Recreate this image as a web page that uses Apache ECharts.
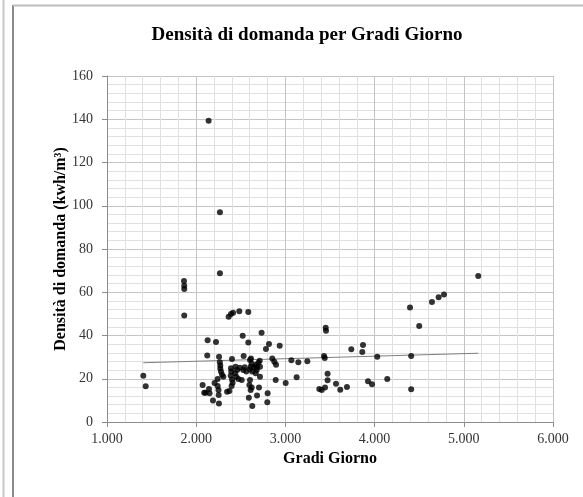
<!DOCTYPE html>
<html>
<head>
<meta charset="utf-8">
<script src="https://cdn.jsdelivr.net/npm/echarts@6/dist/echarts.min.js"></script>
<style>
  html, body { margin: 0; padding: 0; background: #fff; }
  #chart { width: 583px; height: 497px; }
</style>
</head>
<body>
<div id="chart"></div>
<script>
// Gradi Giorno (x) / Densità di domanda (y)
const gradiGiorno = [
  1407, 1434,
  1863, 1866, 1866, 1866,
  2139, 2266, 2266,
  2364, 2390, 2413, 2483, 2584,
  2521, 2733, 2584, 2128, 2222, 2816, 2782, 2936,
  2124, 2256, 2401, 2532, 2614, 2853, 2876, 2895, 3067, 3145, 3246,
  2265, 2270, 2270, 2278, 2290, 2304, 2240, 2206, 2072, 2090, 2105, 2143, 2150, 2188, 2255, 2250, 2252, 2241,
  2346, 2372, 2397, 2408, 2402, 2387, 2393, 2390, 2441, 2459, 2489, 2435, 2450, 2472, 2510, 2528, 2544, 2562,
  2603, 2622, 2610, 2603, 2629, 2651, 2667, 2682, 2678, 2697, 2712, 2715, 2667, 2715,
  2603, 2596, 2622, 2610, 2704, 2590, 2682, 2629, 2801, 2797, 2891, 3003, 3126,
  3380, 3407, 3444, 3473, 3473, 3433, 3441, 3452, 3455, 3567, 3615, 3690, 3739, 3870, 3862,
  3926, 3971, 4030, 4142, 4397, 4410, 4410, 4500, 4643, 4718, 4778, 5162
];
const densita = [
  21.4, 16.5,
  65.2, 63.0, 61.5, 49.2,
  139.3, 97.0, 68.8,
  48.7, 49.9, 50.5, 51.2, 50.9,
  39.9, 41.3, 36.8, 37.8, 37.0, 36.1, 33.8, 35.3,
  30.7, 30.2, 29.1, 30.5, 29.4, 29.4, 27.9, 26.5, 28.5, 27.6, 28.1,
  27.6, 26.1, 24.7, 23.3, 21.8, 20.9, 19.9, 18.0, 17.1, 13.5, 13.5, 15.3, 13.3, 9.9, 8.6, 14.8, 12.5, 16.6,
  14.0, 14.3, 16.6, 18.2, 19.7, 21.4, 23.3, 24.8, 25.6, 24.0, 25.1, 22.5, 20.9, 19.9, 19.4, 24.0, 25.3, 23.3,
  28.7, 27.1, 25.6, 24.4, 23.3, 25.3, 26.4, 25.3, 24.0, 27.4, 28.3, 25.6, 22.5, 20.9,
  19.4, 17.1, 16.0, 14.8, 15.9, 11.2, 12.2, 7.4, 13.3, 9.1, 19.4, 18.0, 20.7,
  15.3, 14.8, 16.0, 22.3, 19.3, 30.5, 29.6, 43.6, 42.2, 17.7, 14.9, 16.2, 33.6, 35.6, 32.4,
  18.8, 17.4, 30.2, 19.9, 53.0, 30.5, 15.1, 44.4, 55.5, 57.7, 59.0, 67.5
];

// linea di tendenza: estremi
const tendenzaX = [1407, 5162];
const tendenzaY = [27.4, 31.8];

const punti = gradiGiorno.map((x, i) => [x, densita[i]]);
const tendenza = tendenzaX.map((x, i) => [x, tendenzaY[i]]);

const serif = 'Liberation Serif';
const chart = echarts.init(document.getElementById('chart'));

chart.setOption({
  animation: false,
  backgroundColor: '#fff',
  textStyle: { fontFamily: serif },
  title: {
    text: 'Densità di domanda per Gradi Giorno',
    left: 302, top: 21, textAlign: 'center',
    textStyle: { fontFamily: serif, fontSize: 19, fontWeight: 'bold', color: '#000' }
  },
  grid: { left: 107, right: 30, top: 76, bottom: 75 },
  xAxis: {
    type: 'value', min: 1000, max: 6000, interval: 1000,
    name: 'Gradi Giorno', nameLocation: 'middle', nameGap: 29, nameMoveOverlap: false,
    nameTextStyle: { fontFamily: serif, fontSize: 16, fontWeight: 'bold', color: '#000' },
    axisLine: { show: true, lineStyle: { color: '#8c8c8c' } },
    axisTick: { show: true, length: 5, lineStyle: { color: '#8c8c8c' } },
    axisLabel: {
      color: '#333', fontSize: 14, fontFamily: serif, margin: 10,
      formatter: v => v.toLocaleString('it-IT')
    },
    splitLine: { show: true, lineStyle: { color: '#c4c4c4' } },
    minorTick: { show: false, splitNumber: 5 },
    minorSplitLine: { show: true, lineStyle: { color: '#e0e0e0' } }
  },
  yAxis: {
    type: 'value', min: 0, max: 160, interval: 20,
    name: 'Densità di domanda (kwh/m³)', nameLocation: 'middle', nameGap: 38, nameMoveOverlap: false,
    nameTextStyle: { fontFamily: serif, fontSize: 16, fontWeight: 'bold', color: '#000' },
    axisLine: { show: true, lineStyle: { color: '#8c8c8c' } },
    axisTick: { show: true, length: 5, lineStyle: { color: '#8c8c8c' } },
    axisLabel: { color: '#333', fontSize: 14, fontFamily: serif, margin: 14 },
    splitLine: { show: true, lineStyle: { color: '#c4c4c4' } },
    minorTick: { show: false, splitNumber: 5 },
    minorSplitLine: { show: true, lineStyle: { color: '#e0e0e0' } }
  },
  series: [{
    type: 'scatter',
    data: punti,
    symbolSize: 6,
    itemStyle: { color: '#000' },
    z: 3
  }, {
    type: 'line',
    data: tendenza,
    symbol: 'none',
    lineStyle: { color: '#808080', width: 1 },
    z: 2
  }],
  graphic: [
    // cornice dell'area del grafico
    { type: 'line', shape: { x1: 3.5, y1: 0, x2: 3.5, y2: 497 }, style: { stroke: '#c8c8c8', lineWidth: 2 } },
    { type: 'line', shape: { x1: 13, y1: 5, x2: 13, y2: 497 }, style: { stroke: '#8a8a8a', lineWidth: 2 } },
    { type: 'line', shape: { x1: 13, y1: 5.5, x2: 583, y2: 5.5 }, style: { stroke: '#bdbdbd', lineWidth: 2 } }
  ]
});
</script>
</body>
</html>
